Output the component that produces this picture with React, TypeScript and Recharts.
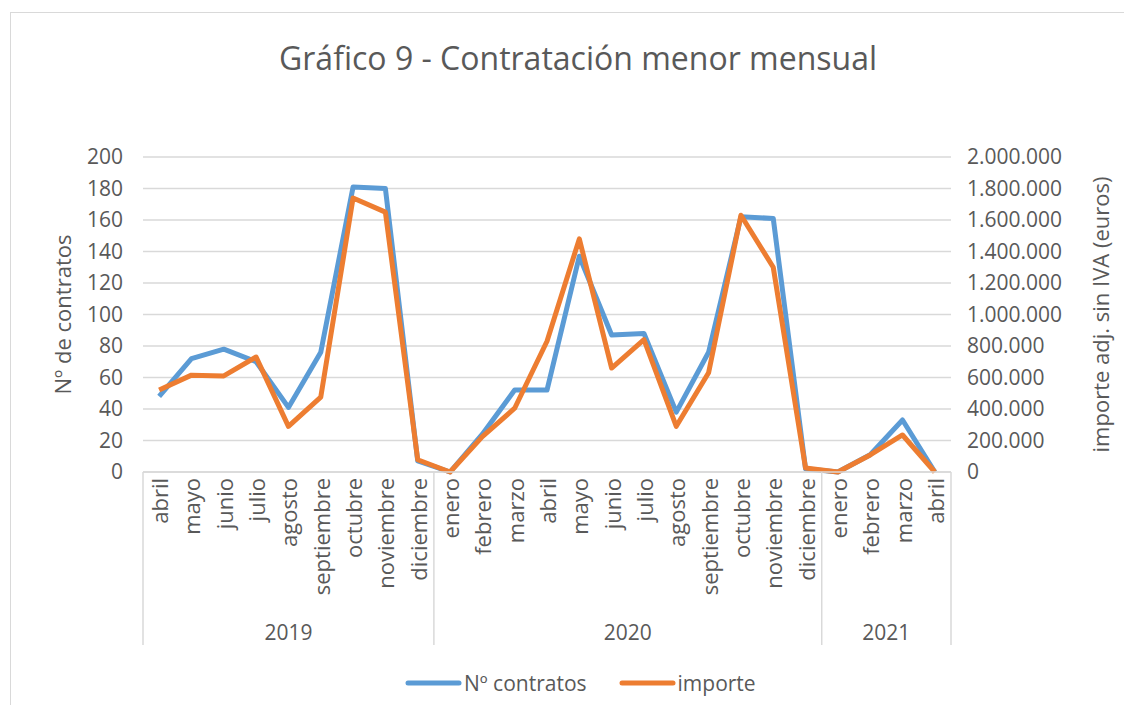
import React from 'react';
import { LineChart, Line, XAxis, YAxis, CartesianGrid, Legend } from 'recharts';

const years = ['2019', '2020', '2021'];
const months2019 = ['abril', 'mayo', 'junio', 'julio', 'agosto', 'septiembre', 'octubre', 'noviembre', 'diciembre'];
const months2020 = ['enero', 'febrero', 'marzo', 'abril', 'mayo', 'junio', 'julio', 'agosto', 'septiembre', 'octubre', 'noviembre', 'diciembre'];
const months2021 = ['enero', 'febrero', 'marzo', 'abril'];

const contratos = [48, 72, 78, 70, 41, 76, 181, 180, 7, 0, 24, 52, 52, 137, 87, 88, 38, 76, 162, 161, 2, 0, 11, 33, 0];
const importe = [520000, 615000, 610000, 730000, 290000, 475000, 1740000, 1650000, 78000, 0, 225000, 405000, 830000, 1480000, 660000, 840000, 290000, 630000, 1630000, 1300000, 25000, 0, 108000, 235000, 0];

const leftTicks = [0, 20, 40, 60, 80, 100, 120, 140, 160, 180, 200];
const rightTicks = [0, 200000, 400000, 600000, 800000, 1000000, 1200000, 1400000, 1600000, 1800000, 2000000];

const seriesNames = ['Nº contratos', 'importe'];
const title = 'Gráfico 9 - Contratación menor mensual';
const leftTitle = 'Nº de contratos';
const rightTitle = 'importe adj. sin IVA (euros)';

const groups = [months2019, months2020, months2021];

// build table
const data: any[] = [];
const groupStart: number[] = [];
groups.forEach((g, gi) => {
  groupStart.push(data.length);
  g.forEach((m) => {
    const i = data.length;
    data.push({ cat: `${years[gi]}-${m}`, month: m, year: years[gi], group: gi, contratos: contratos[i], importe: importe[i] });
  });
});

const W = 1116;
const H = 697;
const PLOT_LEFT = 135;
const PLOT_RIGHT = 943;
const PLOT_TOP = 149;
const PLOT_W = PLOT_RIGHT - PLOT_LEFT;
const BAND = PLOT_W / data.length;
const FONT = '"Open Sans", sans-serif';
const GRAY = '#595959';
const GRID = '#D9D9D9';
const BLUE = '#5B9BD5';
const ORANGE = '#ED7D31';

const fmtEs = (v: number) => String(v).replace(/\B(?=(\d{3})+(?!\d))/g, '.');

const MonthTick = (props: any) => {
  const { x, y, payload } = props;
  const idx = payload.index;
  const row = data[idx];
  if (!row) return null;
  const els: any[] = [];
  const divH = 173;
  els.push(
    <text key="m" x={x} y={y + 6} transform={`rotate(-90, ${x}, ${y + 6})`} textAnchor="end" dominantBaseline="central" fontSize={22} fill={GRAY} fontFamily={FONT}>
      {row.month}
    </text>
  );
  const gi = row.group;
  if (groupStart[gi] === idx) {
    els.push(<line key="d" x1={x - BAND / 2} x2={x - BAND / 2} y1={y} y2={y + divH} stroke={GRID} strokeWidth={1.5} />);
    const cx = x - BAND / 2 + (groups[gi].length * BAND) / 2;
    els.push(
      <text key="y" x={cx} y={y + 160} textAnchor="middle" dominantBaseline="central" fontSize={21} fill={GRAY} fontFamily={FONT}>
        {years[gi]}
      </text>
    );
  }
  if (idx === data.length - 1) {
    els.push(<line key="r" x1={x + BAND / 2} x2={x + BAND / 2} y1={y} y2={y + divH} stroke={GRID} strokeWidth={1.5} />);
  }
  return <g>{els}</g>;
};

const LegendContent = () => (
  <div style={{ height: 30, display: 'flex', alignItems: 'center', fontFamily: FONT, fontSize: 21, color: GRAY }}>
    {[BLUE, ORANGE].map((c, i) => (
      <div key={i} style={{ display: 'flex', alignItems: 'center', marginRight: i === 0 ? 32 : 0 }}>
        <svg width={57} height={10} style={{ marginRight: 2 }}>
          <line x1={3} x2={54} y1={5} y2={5} stroke={c} strokeWidth={5} strokeLinecap="round" />
        </svg>
        <span>{seriesNames[i]}</span>
      </div>
    ))}
  </div>
);

export default function App() {
  return (
    <div style={{ position: 'relative', width: W, height: H, overflow: 'hidden', background: '#fff' }}>
      <div style={{ position: 'absolute', left: 2, top: 4, width: 1300, height: 900, border: `1.5px solid ${GRID}`, boxSizing: 'border-box' }} />
      <div style={{ position: 'absolute', left: 0, width: 1140, top: 28, textAlign: 'center', fontFamily: FONT, fontSize: 32, color: GRAY, whiteSpace: 'nowrap' }}>
        {title}
      </div>
      <LineChart width={W} height={H} data={data} margin={{ top: PLOT_TOP, right: 0, bottom: 7, left: 0 }} style={{ position: 'absolute', left: 0, top: 0 }}>
        <CartesianGrid yAxisId="left" vertical={false} stroke={GRID} strokeWidth={1.5} />
        <XAxis
          dataKey="cat"
          interval={0}
          height={196}
          tickSize={0}
          tickMargin={0}
          axisLine={{ stroke: GRID, strokeWidth: 1.5 }}
          tickLine={false}
          padding={{ left: BAND / 2, right: BAND / 2 }}
          tick={<MonthTick />}
        />
        <YAxis
          yAxisId="left"
          width={PLOT_LEFT}
          domain={[0, 200]}
          ticks={leftTicks}
          interval={0}
          axisLine={false}
          tickLine={false}
          tickSize={0}
          tickMargin={20}
          tick={{ fontSize: 21, fill: GRAY, fontFamily: FONT }}
          label={(p: any) => {
            const vb = p.viewBox;
            const cx = vb.x + 54;
            const cy = vb.y + vb.height / 2;
            return (
              <text x={cx} y={cy} transform={`rotate(-90, ${cx}, ${cy})`} textAnchor="middle" dominantBaseline="central" fontSize={22} fill={GRAY} fontFamily={FONT}>
                {leftTitle}
              </text>
            );
          }}
        />
        <YAxis
          yAxisId="right"
          orientation="right"
          width={W - PLOT_RIGHT}
          domain={[0, 2000000]}
          ticks={rightTicks}
          interval={0}
          axisLine={false}
          tickLine={false}
          tickSize={0}
          tickMargin={16}
          tickFormatter={fmtEs}
          tick={{ fontSize: 21, fill: GRAY, fontFamily: FONT }}
          label={(p: any) => {
            const vb = p.viewBox;
            const cx = vb.x + 149;
            const cy = vb.y + vb.height / 2;
            return (
              <text x={cx} y={cy} transform={`rotate(-90, ${cx}, ${cy})`} textAnchor="middle" dominantBaseline="central" fontSize={22} fill={GRAY} fontFamily={FONT}>
                {rightTitle}
              </text>
            );
          }}
        />
        <Legend verticalAlign="bottom" content={<LegendContent />} wrapperStyle={{ left: 397, width: 400 }} />
        <Line yAxisId="left" type="linear" dataKey="contratos" name={seriesNames[0]} stroke={BLUE} strokeWidth={5} strokeLinejoin="round" dot={false} activeDot={false} isAnimationActive={false} />
        <Line yAxisId="right" type="linear" dataKey="importe" name={seriesNames[1]} stroke={ORANGE} strokeWidth={5} strokeLinejoin="round" dot={false} activeDot={false} isAnimationActive={false} />
      </LineChart>
    </div>
  );
}
